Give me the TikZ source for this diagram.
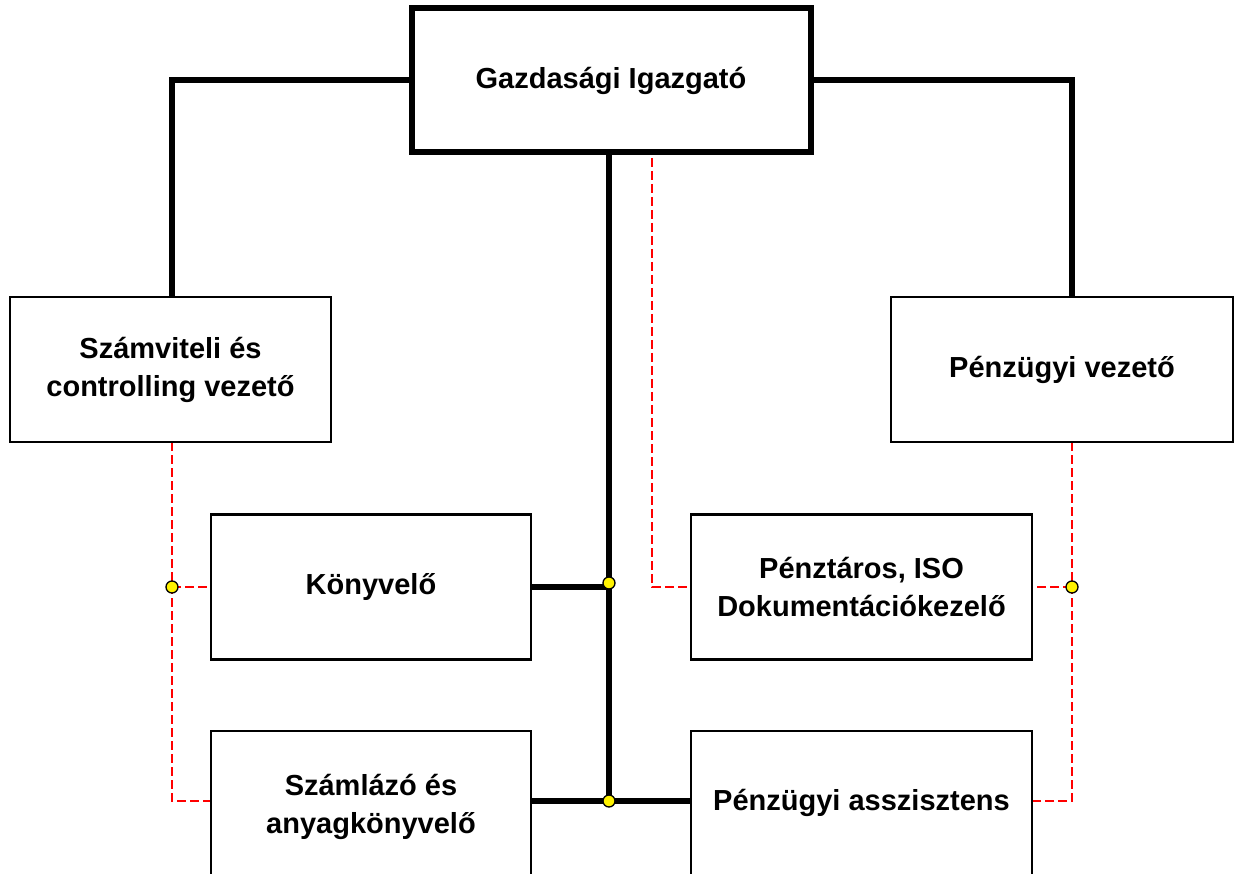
\documentclass[tikz,border=0pt]{standalone}
\usepackage{fontspec}
\setmainfont{Liberation Sans}
\begin{document}
\begin{tikzpicture}[x=1pt,y=-1pt,
  box/.style={draw=black,line width=2.5pt,fill=white,minimum width=#1,minimum height=145pt,align=center,font=\fontsize{29}{38}\selectfont\bfseries,inner sep=0pt},
  lbl/.style={font=\fontsize{29}{38}\selectfont\bfseries,align=center},
  thick line/.style={line width=5.5pt,black},
  red dash/.style={draw=red,line width=2.5pt,dash pattern=on 9pt off 4pt},
  dot/.style={circle,draw=black,line width=1.3pt,fill=yellow,minimum size=12pt,inner sep=0pt}]
\useasboundingbox (0,0) rectangle (1242,874);
% connectors first
\coordinate (tl) at (172,80);
\coordinate (tr) at (1072,80);
\draw[thick line] (611,80) -- (tl) -- (172,297);
\draw[thick line] (611,80) -- (tr) -- (1072,297);
\draw[thick line] (609,150) -- (609,801);
\draw[thick line] (531,587) -- (609,587);
\draw[thick line] (531,801) -- (691,801);
\draw[red dash] (172,442) -- (172,801) -- (211,801);
\draw[red dash] (172,587) -- (211,587);
\draw[red dash] (1072,442) -- (1072,801) -- (1032,801);
\draw[red dash] (1072,587) -- (1032,587);
\draw[red dash] (652,158) -- (652,587) -- (691,587);
% boxes
\node[box=399pt,minimum height=144pt,line width=6pt] (gi) at (611,80.5) {Gazdasági Igazgató};
\node[box=321pt] (sz) at (170.5,369.5) {Számviteli és\\controlling vezető};
\node[box=342pt] (pv) at (1062,369.5) {Pénzügyi vezető};
\node[box=320pt] (ko) at (371,587) {Könyvelő};
\node[box=341pt] (pe) at (861.5,587) {Pénztáros, ISO\\Dokumentációkezelő};
\node[box=320pt,minimum height=200pt] (sa) at (371,831) {};
\node[lbl] (sat) at (371,807) {Számlázó és\\anyagkönyvelő};
\node[box=341pt,minimum height=200pt] (pa) at (861.5,831) {};
\node[lbl] (pat) at (861.5,803) {Pénzügyi asszisztens};
\node[dot] (d1) at (609,583) {};
\node[dot] (d2) at (609,801) {};
\node[dot] (d3) at (172,587) {};
\node[dot] (d4) at (1072,587) {};
\end{tikzpicture}
\end{document}
